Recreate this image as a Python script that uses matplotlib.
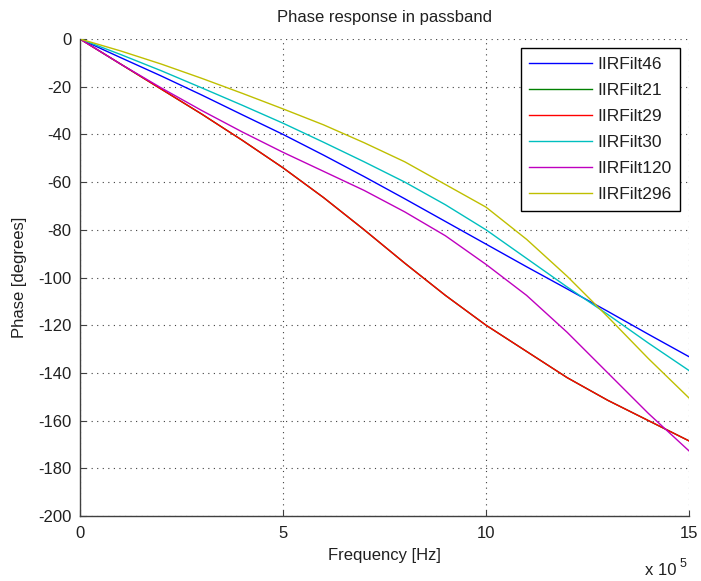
import matplotlib
matplotlib.use("Agg")
import matplotlib.pyplot as plt

plt.rcParams['font.family'] = ['Liberation Sans', 'DejaVu Sans']

# Frequency grid (units of 1e5 Hz) and phase (degrees) of each filter
freq = [0, 1, 2, 3, 4, 5, 6, 7, 8, 9, 10, 11, 12, 13, 14, 15]

iirfilt46 = [0, -7.8, -15.5, -23.5, -31.8, -40, -48.7, -57.7, -67, -76.5,
             -86, -95.5, -104.8, -114.2, -123.8, -133.2]
iirfilt21 = [0, -10.5, -21, -31.5, -42.5, -54, -66.5, -80, -94, -107.5,
             -120, -131, -142, -151.5, -160, -168.5]
iirfilt29 = [0, -10.5, -21, -31.5, -42.5, -54, -66.5, -80, -94, -107.5,
             -120, -131, -142, -151.5, -160, -168.5]
iirfilt30 = [0, -6.5, -13.3, -20.5, -27.8, -35.3, -43.3, -51.5, -60, -69.5,
             -80, -92, -104, -115.5, -127.5, -139]
iirfilt120 = [0, -10.5, -20.5, -30, -39, -47.5, -55.5, -63.5, -72.5, -82.5,
              -94.5, -107.5, -123, -140, -157, -172.7]
iirfilt296 = [0, -5, -10.5, -16.5, -22.8, -29.3, -36, -43.5, -51.5, -61,
              -70.5, -84, -99.5, -116.5, -134, -150.5]

series = [
    ("IIRFilt46", iirfilt46, (0, 0, 1)),
    ("IIRFilt21", iirfilt21, (0, 0.5, 0)),
    ("IIRFilt29", iirfilt29, (1, 0, 0)),
    ("IIRFilt30", iirfilt30, (0, 0.75, 0.75)),
    ("IIRFilt120", iirfilt120, (0.75, 0, 0.75)),
    ("IIRFilt296", iirfilt296, (0.75, 0.75, 0)),
]

xticks = [0, 5, 10, 15]
yticks = list(range(-200, 1, 20))

FS = 12
TXT = '#202020'

fig = plt.figure(figsize=(7.01, 5.81), dpi=100)
ax = fig.add_axes([80 / 701, 1 - 516 / 581, 609 / 701, 477 / 581])

for name, vals, col in series:
    ax.plot(freq, vals, color=col, lw=1.0, label=name)

ax.set_xlim(0, 15)
ax.set_ylim(-200, 0)
ax.set_xticks(xticks)
ax.set_yticks(yticks)
ax.set_xticklabels([str(t) for t in xticks])
ax.set_yticklabels([str(t) for t in yticks])

for s in ('top', 'right'):
    ax.spines[s].set_visible(False)
for s in ('left', 'bottom'):
    ax.spines[s].set_color('#404040')
    ax.spines[s].set_linewidth(1.0)

ax.tick_params(direction='in', length=4, width=0.8, color='#404040',
               labelsize=FS, labelcolor=TXT)
ax.tick_params(axis='x', pad=7)
ax.tick_params(axis='y', pad=6)

ax.grid(True, color='0.25', linestyle=(0, (1, 4)), linewidth=0.8)

ax.set_title("Phase response in passband", fontsize=FS, color=TXT, pad=12)
ax.set_xlabel("Frequency [Hz]", fontsize=FS, color=TXT, labelpad=5)
ax.set_ylabel("Phase [degrees]", fontsize=FS, color=TXT, labelpad=8)

fig.text(645 / 701, 1 - 575 / 581, "x 10", fontsize=FS, color=TXT,
         ha='left', va='baseline')
fig.text(680 / 701, 1 - 567 / 581, "5", fontsize=9, color=TXT,
         ha='left', va='baseline')

leg = ax.legend(loc='upper right', bbox_to_anchor=(0.985, 0.981),
                fontsize=12.5, handlelength=3.6, handletextpad=0.3,
                labelspacing=0.63, borderpad=0.5, borderaxespad=0,
                fancybox=False, framealpha=1, edgecolor='black')
leg.get_frame().set_linewidth(1.0)
for t in leg.get_texts():
    t.set_color(TXT)

fig.savefig("out.png", dpi=100)
